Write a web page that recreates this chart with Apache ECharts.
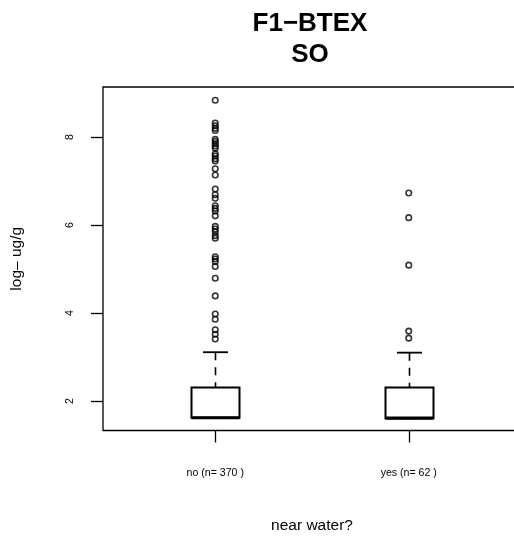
<!DOCTYPE html>
<html>
<head>
<meta charset="utf-8">
<script src="https://cdn.jsdelivr.net/npm/echarts@6/dist/echarts.min.js"></script>
<style>
html,body{margin:0;padding:0;background:#fff;overflow:hidden;}
#chart{width:514px;height:536px;}
</style>
</head>
<body>
<div id="chart"></div>
<script>
// ---- data ----
const categories = ['no (n= 370 )', 'yes (n= 62 )'];
const positions = [1, 2];
const lowerWhisker = [1.62, 1.61];
const q1 = [1.62, 1.61];
const median = [1.62, 1.61];
const q3 = [2.31, 2.31];
const upperWhisker = [3.11, 3.10];
const outliersNo = [8.84, 8.32, 8.26, 8.20, 8.15, 7.95, 7.90, 7.85, 7.80, 7.75,
  7.62, 7.57, 7.51, 7.46, 7.28, 7.14, 6.82, 6.69, 6.61, 6.44, 6.38, 6.32, 6.21,
  5.97, 5.91, 5.85, 5.76, 5.70, 5.28, 5.23, 5.17, 5.06, 4.79, 4.39, 3.98, 3.86,
  3.62, 3.52, 3.41];
const outliersYes = [6.73, 6.17, 5.09, 3.59, 3.43];
const yTicks = [2, 4, 6, 8];
const titleText = 'F1\u2212BTEX\nSO';
const yName = 'log\u2013 ug/g';
const xName = 'near water?';

// ---- build ----
const boxData = positions.map((p, i) => [p, lowerWhisker[i], q1[i], median[i], q3[i], upperWhisker[i]]);
const outlierData = [];
outliersNo.forEach(v => outlierData.push([positions[0], v]));
outliersYes.forEach(v => outlierData.push([positions[1], v]));

const BOX_W = 48, CAP_W = 25;
function renderBox(params, api) {
  const x = api.value(0);
  const lw = api.coord([x, api.value(1)]);
  const pq1 = api.coord([x, api.value(2)]);
  const pmed = api.coord([x, api.value(3)]);
  const pq3 = api.coord([x, api.value(4)]);
  const uw = api.coord([x, api.value(5)]);
  const cx = Math.round(pq1[0]) + 0.5;
  const black = '#000';
  return {
    type: 'group',
    children: [
      { type: 'line', shape: { x1: cx, y1: uw[1], x2: cx, y2: pq3[1] },
        style: { stroke: black, lineWidth: 1.6, lineDash: [8, 7] } },
      { type: 'line', shape: { x1: cx, y1: lw[1], x2: cx, y2: pq1[1] },
        style: { stroke: black, lineWidth: 1.6, lineDash: [8, 7] } },
      { type: 'line', shape: { x1: cx - CAP_W / 2, y1: uw[1], x2: cx + CAP_W / 2, y2: uw[1] },
        style: { stroke: black, lineWidth: 1.8 } },
      { type: 'line', shape: { x1: cx - CAP_W / 2, y1: lw[1], x2: cx + CAP_W / 2, y2: lw[1] },
        style: { stroke: black, lineWidth: 1.8 } },
      { type: 'rect', shape: { x: cx - BOX_W / 2, y: pq3[1], width: BOX_W, height: pq1[1] - pq3[1] },
        style: { fill: '#fff', stroke: black, lineWidth: 2 } },
      { type: 'line', shape: { x1: cx - BOX_W / 2, y1: pmed[1], x2: cx + BOX_W / 2, y2: pmed[1] },
        style: { stroke: black, lineWidth: 3.2 } }
    ]
  };
}

const chart = echarts.init(document.getElementById('chart'), null, { renderer: 'canvas' });
chart.setOption({
  animation: false,
  backgroundColor: '#fff',
  textStyle: { fontFamily: 'Liberation Sans, Arial, sans-serif' },
  title: {
    text: titleText,
    left: 305,
    textAlign: 'center',
    top: 3,
    textStyle: { fontSize: 26, fontWeight: 'bold', color: '#000', lineHeight: 31,
      fontFamily: 'Liberation Sans, Arial, sans-serif' }
  },
  grid: {
    left: 103, top: 87, width: 418, height: 343.5,
    outerBoundsMode: 'none', containLabel: false,
    show: true, borderColor: '#000', borderWidth: 1.3, backgroundColor: 'transparent'
  },
  xAxis: {
    type: 'value', min: 0.42, max: 2.58,
    splitLine: { show: false },
    axisLine: { show: false },
    axisTick: { show: true, length: 12, inside: false, customValues: positions,
      lineStyle: { color: '#000', width: 1.3 } },
    axisLabel: { show: true, customValues: positions, margin: 37, fontSize: 10.6, color: '#000',
      formatter: v => categories[positions.indexOf(v)] || '' },
    name: xName, nameLocation: 'middle', nameGap: 87,
    nameTextStyle: { fontSize: 15.5, color: '#000' }
  },
  yAxis: {
    type: 'value', min: 1.33, max: 9.14,
    splitLine: { show: false },
    axisLine: { show: false },
    axisTick: { show: true, length: 12, inside: false, customValues: yTicks,
      lineStyle: { color: '#000', width: 1.3 } },
    axisLabel: { show: true, customValues: yTicks, rotate: 90, margin: 27, fontSize: 10.6, color: '#000' },
    name: yName, nameLocation: 'middle', nameGap: 78,
    nameTextStyle: { fontSize: 15.5, color: '#000' }
  },
  series: [
    { type: 'custom', renderItem: renderBox, data: boxData, z: 2,
      encode: { x: 0, y: [1, 2, 3, 4, 5] } },
    { type: 'scatter', data: outlierData, symbol: 'circle', symbolSize: 5.5, z: 3,
      itemStyle: { color: 'rgba(255,255,255,0)', borderColor: '#000', borderWidth: 1.6 } }
  ]
});
</script>
</body>
</html>
